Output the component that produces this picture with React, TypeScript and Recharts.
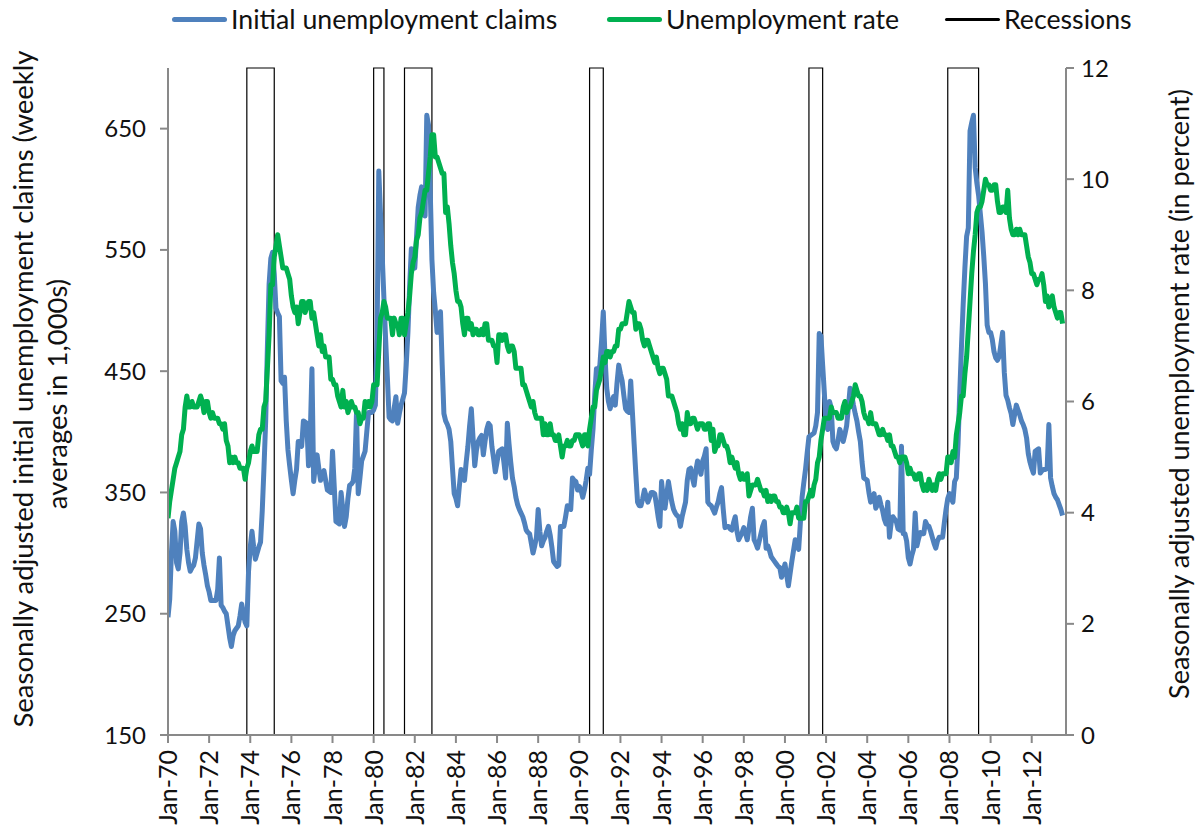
import React from "react";
import { LineChart, Line, XAxis, YAxis, ReferenceArea } from "recharts";

// Monthly averages of weekly initial claims (thousands), Jan 1970 onward
const claims1970s = [
  247, 262, 300, 326, 318, 292, 287, 300, 326, 333, 322, 303,
  292, 285, 288, 290, 296, 310, 324, 320, 300, 290, 282, 273,
  268, 261, 261, 261, 261, 270, 296, 257, 255, 252, 250, 240,
  230, 223, 232, 236, 238, 240, 248, 258, 250, 243, 240, 285,
  305, 318, 305, 295, 300, 305, 309, 335, 370, 409, 470, 522,
  543, 548, 530, 502, 498, 495, 442, 440, 445, 409, 385, 372,
  360, 349, 360, 369, 392, 392, 388, 409, 408, 407, 372, 397,
  452, 359, 372, 381, 370, 360, 364, 368, 360, 352, 351, 350,
  384, 355, 326, 325, 324, 350, 336, 322, 330, 345, 356, 357,
  359, 370, 416, 349, 362, 376, 380, 384, 400, 416, 416, 416,
];
const claims1980s = [
  418, 422, 480, 615, 580, 545, 510, 476, 445, 412, 410, 409,
  420, 429, 407, 415, 422, 427, 432, 455, 482, 520, 551, 543,
  535, 560, 585, 595, 602, 590, 578, 661, 653, 600, 542, 515,
  500, 482, 492, 499, 455, 415, 409, 406, 402, 392, 370, 349,
  345, 339, 355, 369, 365, 360, 375, 388, 405, 419, 395, 372,
  385, 392, 395, 397, 381, 392, 402, 407, 405, 388, 378, 367,
  375, 384, 385, 386, 375, 362, 407, 390, 375, 362, 355, 346,
  340, 336, 333, 330, 325, 319, 317, 316, 308, 300, 306, 313,
  336, 318, 306, 310, 313, 318, 322, 315, 305, 293, 291, 289,
  290, 322, 322, 322, 330, 339, 337, 336, 362, 360, 359, 352,
];
const claims1990s = [
  355, 352, 346, 352, 360, 370, 365, 385, 402, 430, 452, 450,
  455, 475, 499, 462, 436, 425, 419, 425, 429, 422, 440, 455,
  448, 442, 430, 419, 417, 416, 442, 416, 390, 365, 342, 339,
  339, 345, 352, 347, 342, 346, 350, 350, 349, 340, 330, 322,
  359, 345, 337, 348, 359, 350, 342, 336, 333, 331, 330, 322,
  330, 336, 342, 360, 369, 370, 362, 356, 368, 376, 370, 365,
  376, 380, 386, 342, 340, 339, 336, 333, 338, 342, 349, 354,
  336, 321, 322, 322, 320, 319, 325, 330, 318, 311, 314, 317,
  321, 316, 311, 320, 330, 337, 311, 308, 304, 310, 316, 322,
  326, 304, 306, 302, 297, 295, 293, 291, 289, 288, 280, 285,
];
const claims2000s = [
  291, 282, 273, 283, 293, 302, 311, 307, 303, 325, 346, 358,
  369, 383, 396, 397, 398, 399, 405, 416, 481, 479, 455, 432,
  405, 402, 425, 420, 392, 388, 386, 393, 402, 398, 392, 398,
  405, 420, 436, 430, 422, 415, 409, 400, 392, 375, 362, 361,
  360, 350, 342, 346, 349, 337, 340, 346, 340, 335, 328, 324,
  342, 313, 325, 330, 328, 326, 320, 319, 388, 316, 316, 310,
  296, 291, 298, 303, 333, 306, 312, 317, 316, 316, 326, 323,
  322, 318, 313, 308, 304, 310, 313, 313, 313, 325, 336, 345,
  349, 345, 342, 359, 362, 390, 432, 470, 505, 535, 561, 568,
  648, 655, 661, 618, 605, 595, 580, 565, 545, 522, 488, 482,
];
const claims2010s = [
  482, 476, 466, 461, 459, 462, 472, 482, 449, 430, 426, 420,
  415, 406, 414, 422, 418, 414, 409, 406, 402, 395, 382, 375,
  370, 366, 384, 385, 386, 366, 368, 369, 369, 370, 406, 362,
  355, 349, 346, 344, 340, 336, 331,
];

// Civilian unemployment rate (percent), Jan 1970 onward
const rate1970s = [
  3.9, 4.2, 4.4, 4.6, 4.8, 4.9, 5.0, 5.1, 5.4, 5.5, 5.9, 6.1,
  5.9, 5.9, 6.0, 5.9, 5.9, 5.9, 6.0, 6.1, 6.0, 5.8, 6.0, 6.0,
  5.8, 5.7, 5.8, 5.7, 5.7, 5.7, 5.6, 5.6, 5.5, 5.6, 5.3, 5.2,
  4.9, 5.0, 4.9, 5.0, 4.9, 4.9, 4.8, 4.8, 4.8, 4.6, 4.8, 4.9,
  5.1, 5.2, 5.1, 5.1, 5.1, 5.4, 5.5, 5.5, 5.9, 6.0, 6.6, 7.2,
  8.1, 8.1, 8.6, 8.8, 9.0, 8.8, 8.6, 8.4, 8.4, 8.4, 8.3, 8.2,
  7.9, 7.7, 7.6, 7.7, 7.4, 7.6, 7.8, 7.8, 7.6, 7.7, 7.8, 7.8,
  7.5, 7.6, 7.4, 7.2, 7.0, 7.2, 6.9, 7.0, 6.8, 6.8, 6.8, 6.4,
  6.4, 6.3, 6.3, 6.1, 6.0, 5.9, 6.2, 5.9, 6.0, 5.8, 5.9, 6.0,
  5.9, 5.9, 5.8, 5.8, 5.6, 5.7, 5.7, 6.0, 5.9, 6.0, 5.9, 6.0,
];
const rate1980s = [
  6.3, 6.3, 6.3, 6.9, 7.5, 7.6, 7.8, 7.7, 7.5, 7.5, 7.5, 7.2,
  7.5, 7.4, 7.4, 7.2, 7.5, 7.5, 7.2, 7.4, 7.6, 7.9, 8.3, 8.5,
  8.6, 8.9, 9.0, 9.3, 9.4, 9.6, 9.8, 9.8, 10.1, 10.4, 10.8, 10.8,
  10.4, 10.4, 10.3, 10.2, 10.1, 10.1, 9.4, 9.5, 9.2, 8.8, 8.5, 8.3,
  8.0, 7.8, 7.8, 7.7, 7.4, 7.2, 7.5, 7.5, 7.3, 7.4, 7.2, 7.3,
  7.3, 7.2, 7.2, 7.3, 7.2, 7.4, 7.4, 7.1, 7.1, 7.1, 7.0, 7.0,
  6.7, 7.2, 7.2, 7.1, 7.2, 7.2, 7.0, 6.9, 7.0, 7.0, 6.9, 6.6,
  6.6, 6.6, 6.6, 6.3, 6.3, 6.2, 6.1, 6.0, 5.9, 6.0, 5.8, 5.7,
  5.7, 5.7, 5.7, 5.4, 5.6, 5.4, 5.4, 5.6, 5.4, 5.4, 5.3, 5.3,
  5.4, 5.2, 5.0, 5.2, 5.2, 5.3, 5.2, 5.2, 5.3, 5.3, 5.4, 5.4,
];
const rate1990s = [
  5.4, 5.3, 5.2, 5.4, 5.4, 5.2, 5.5, 5.7, 5.9, 5.9, 6.2, 6.3,
  6.4, 6.6, 6.8, 6.7, 6.9, 6.9, 6.8, 6.9, 6.9, 7.0, 7.0, 7.3,
  7.3, 7.4, 7.4, 7.4, 7.6, 7.8, 7.7, 7.6, 7.6, 7.3, 7.4, 7.4,
  7.3, 7.1, 7.0, 7.1, 7.1, 7.0, 6.9, 6.8, 6.7, 6.8, 6.6, 6.5,
  6.6, 6.6, 6.5, 6.4, 6.1, 6.1, 6.1, 6.0, 5.9, 5.8, 5.6, 5.5,
  5.6, 5.4, 5.4, 5.8, 5.6, 5.6, 5.7, 5.7, 5.6, 5.5, 5.6, 5.6,
  5.6, 5.5, 5.5, 5.6, 5.6, 5.3, 5.5, 5.1, 5.2, 5.2, 5.4, 5.4,
  5.3, 5.2, 5.2, 5.1, 4.9, 5.0, 4.9, 4.8, 4.9, 4.7, 4.6, 4.7,
  4.6, 4.6, 4.7, 4.3, 4.4, 4.5, 4.5, 4.5, 4.6, 4.5, 4.4, 4.4,
  4.3, 4.4, 4.2, 4.3, 4.2, 4.3, 4.3, 4.2, 4.2, 4.1, 4.1, 4.0,
];
const rate2000s = [
  4.0, 4.1, 4.0, 3.8, 4.0, 4.0, 4.0, 4.1, 3.9, 3.9, 3.9, 3.9,
  4.2, 4.2, 4.3, 4.4, 4.3, 4.5, 4.6, 4.9, 5.0, 5.3, 5.5, 5.7,
  5.7, 5.7, 5.7, 5.9, 5.8, 5.8, 5.8, 5.7, 5.7, 5.7, 5.9, 6.0,
  5.8, 5.9, 5.9, 6.0, 6.1, 6.3, 6.2, 6.1, 6.1, 6.0, 5.8, 5.7,
  5.7, 5.6, 5.8, 5.6, 5.6, 5.6, 5.5, 5.4, 5.4, 5.5, 5.4, 5.4,
  5.3, 5.4, 5.2, 5.2, 5.1, 5.0, 5.0, 4.9, 5.0, 5.0, 5.0, 4.9,
  4.7, 4.8, 4.7, 4.7, 4.6, 4.6, 4.7, 4.7, 4.5, 4.4, 4.5, 4.4,
  4.6, 4.5, 4.4, 4.5, 4.4, 4.6, 4.7, 4.6, 4.7, 4.7, 4.7, 5.0,
  5.0, 4.9, 5.1, 5.0, 5.4, 5.6, 5.8, 6.1, 6.1, 6.5, 6.8, 7.3,
  7.8, 8.3, 8.7, 9.0, 9.4, 9.5, 9.5, 9.6, 9.8, 10.0, 9.9, 9.9,
];
const rate2010s = [
  9.8, 9.8, 9.9, 9.9, 9.6, 9.4, 9.4, 9.5, 9.5, 9.4, 9.8, 9.3,
  9.1, 9.0, 9.0, 9.1, 9.0, 9.1, 9.0, 9.0, 9.0, 8.8, 8.6, 8.5,
  8.3, 8.3, 8.2, 8.1, 8.2, 8.2, 8.3, 8.1, 7.8, 7.9, 7.7, 7.8,
  7.9, 7.7, 7.6, 7.5, 7.6, 7.6, 7.4,
];

// NBER recessions: [start, end] as "YYYY-MM"
const recessions = [
  ["1973-11", "1975-03"],
  ["1980-01", "1980-07"],
  ["1981-07", "1982-11"],
  ["1990-07", "1991-03"],
  ["2001-03", "2001-11"],
  ["2007-12", "2009-06"],
];

const leftTicks = [150, 250, 350, 450, 550, 650];
const rightTicks = [0, 2, 4, 6, 8, 10, 12];
const xTickYears = [1970, 1972, 1974, 1976, 1978, 1980, 1982, 1984, 1986, 1988, 1990,
  1992, 1994, 1996, 1998, 2000, 2002, 2004, 2006, 2008, 2010, 2012];
const xAxisEnd = "2013-09";

const BASE_YEAR = 1970;
const monthIndex = (s: string) => {
  const [y, mo] = s.split("-").map(Number);
  return (y - BASE_YEAR) * 12 + (mo - 1);
};

const claims = [...claims1970s, ...claims1980s, ...claims1990s, ...claims2000s, ...claims2010s];
const rate = [...rate1970s, ...rate1980s, ...rate1990s, ...rate2000s, ...rate2010s];
const data = claims.map((c, i) => ({ m: i, claims: c, rate: rate[i] }));
const xTicks = xTickYears.map((y) => (y - BASE_YEAR) * 12);

const BLUE = "#4F81BD";
const GREEN = "#00B050";
const AXIS = "#898989";
const FONT = "Lato, 'Open Sans', sans-serif";

const XTick = (props: any) => {
  const { x, y, payload } = props;
  const yr = BASE_YEAR + Math.round(payload.value / 12);
  const label = "Jan-" + String(yr % 100).padStart(2, "0");
  return (
    <text
      x={x}
      y={y}
      transform={`rotate(-90 ${x} ${y})`}
      textAnchor="end"
      dy="0.36em"
      fontSize={25}
      fill="#111"
      fontFamily={FONT}
    >
      {label}
    </text>
  );
};

const RecessionShape = (props: any) => {
  const { x, y, width, height } = props;
  if ([x, y, width, height].some((v) => typeof v !== "number" || isNaN(v))) return null;
  return (
    <path
      d={`M${x},${y + height} V${y} H${x + width} V${y + height}`}
      fill="none"
      stroke="#000"
      strokeWidth={1.2}
    />
  );
};

const LegendItem = ({ left, color, thick, text }: any) => (
  <div style={{ position: "absolute", left, top: 2, display: "flex", alignItems: "center", height: 34 }}>
    <div style={{ width: 55, height: thick, background: color, borderRadius: thick / 2 }} />
    <span style={{ marginLeft: 4, fontSize: 26.7, color: "#111", whiteSpace: "nowrap" }}>{text}</span>
  </div>
);

export default function App() {
  return (
    <div
      style={{
        position: "absolute",
        left: 0,
        top: 0,
        width: 1196,
        height: 831,
        background: "#fff",
        fontFamily: FONT,
        overflow: "hidden",
      }}
    >
      <LegendItem left={172} color={BLUE} thick={5} text="Initial unemployment claims" />
      <LegendItem left={607} color={GREEN} thick={5} text="Unemployment rate" />
      <LegendItem left={945} color="#000" thick={3} text="Recessions" />
      <LineChart
        width={1196}
        height={831}
        data={data}
        margin={{ top: 68, right: 0, bottom: 0, left: 0 }}
        style={{ position: "absolute", left: 0, top: 0 }}
      >
        <XAxis
          dataKey="m"
          type="number"
          domain={[0, monthIndex(xAxisEnd)]}
          ticks={xTicks}
          interval={0}
          height={96}
          axisLine={{ stroke: AXIS, strokeWidth: 2 }}
          tickLine={{ stroke: AXIS, strokeWidth: 2 }}
          tickSize={8}
          tickMargin={7}
          tick={<XTick />}
          allowDataOverflow
        />
        <YAxis
          yAxisId="left"
          orientation="left"
          width={168}
          domain={[150, 700]}
          ticks={leftTicks}
          interval={0}
          axisLine={{ stroke: AXIS, strokeWidth: 2 }}
          tickLine={{ stroke: AXIS, strokeWidth: 2 }}
          tickSize={8}
          tickMargin={14}
          tick={{ fontSize: 24, fill: "#111", fontFamily: FONT }}
          allowDataOverflow
        />
        <YAxis
          yAxisId="right"
          orientation="right"
          width={130}
          domain={[0, 12]}
          ticks={rightTicks}
          interval={0}
          axisLine={{ stroke: AXIS, strokeWidth: 2 }}
          tickLine={{ stroke: AXIS, strokeWidth: 2 }}
          tickSize={8}
          tickMargin={7}
          tick={{ fontSize: 24, fill: "#111", fontFamily: FONT }}
          allowDataOverflow
        />
        <Line
          yAxisId="left"
          type="linear"
          dataKey="claims"
          stroke={BLUE}
          strokeWidth={5}
          dot={false}
          activeDot={false}
          isAnimationActive={false}
          strokeLinejoin="round"
        />
        <Line
          yAxisId="right"
          type="linear"
          dataKey="rate"
          stroke={GREEN}
          strokeWidth={5}
          dot={false}
          activeDot={false}
          isAnimationActive={false}
          strokeLinejoin="round"
        />
        {recessions.map(([s, e]) => (
          <ReferenceArea
            key={s}
            yAxisId="left"
            x1={monthIndex(s)}
            x2={monthIndex(e)}
            y1={150}
            y2={700}
            fill="none"
            shape={<RecessionShape />}
            ifOverflow="extendDomain"
          />
        ))}
        <text x={-389} y={33} transform="rotate(-90)" textAnchor="middle" fontSize={27.5} fill="#111" fontFamily={FONT}>
          Seasonally adjusted initial unemployment claims (weekly
        </text>
        <text x={-394} y={67} transform="rotate(-90)" textAnchor="middle" fontSize={27.5} fill="#111" fontFamily={FONT}>
          averages in 1,000s)
        </text>
        <text x={-394} y={1189} transform="rotate(-90)" textAnchor="middle" fontSize={27} fill="#111" fontFamily={FONT}>
          Seasonally adjusted unemployment rate (in percent)
        </text>
      </LineChart>
    </div>
  );
}
